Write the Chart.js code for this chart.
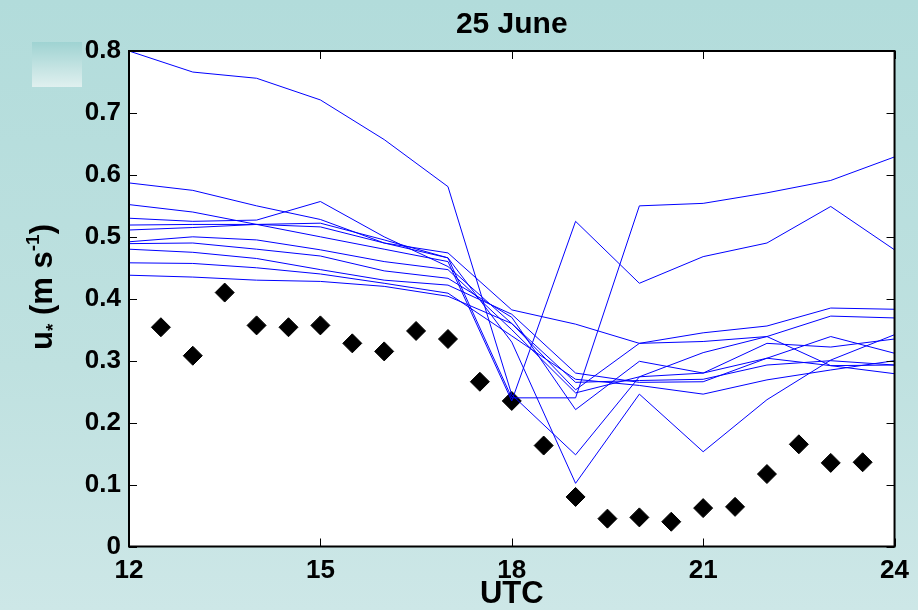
<!DOCTYPE html>
<html>
<head>
<meta charset="utf-8">
<title>25 June</title>
<script src="https://cdn.jsdelivr.net/npm/chart.js@4.4.1/dist/chart.umd.min.js"></script>
<style>
  html, body { margin: 0; padding: 0; }
  body {
    width: 918px; height: 610px; overflow: hidden; position: relative;
    background: linear-gradient(to bottom, #b2dcdb 0%, #bfe1e0 60%, #cde7e7 100%);
  }
  #swatch {
    position: absolute; left: 32px; top: 42px; width: 50px; height: 45px;
    background: linear-gradient(to bottom, #9fd3d2, #e0f0ef);
  }
  canvas { position: absolute; left: 0; top: 0; }
</style>
</head>
<body>
<div id="swatch"></div>
<canvas id="chart" width="918" height="610"></canvas>
<script>
// hourly model output, 12 to 24 UTC
const hours = [12, 13, 14, 15, 16, 17, 18, 19, 20, 21, 22, 23, 24];

const run1  = [0.800, 0.766, 0.756, 0.721, 0.657, 0.581, 0.245, 0.148, 0.274, 0.280, 0.304, 0.292, 0.293];
const run2  = [0.552, 0.540, 0.520, 0.500, 0.480, 0.460, 0.235, 0.525, 0.425, 0.468, 0.490, 0.549, 0.479];
const run3  = [0.587, 0.575, 0.550, 0.528, 0.490, 0.466, 0.240, 0.240, 0.550, 0.554, 0.571, 0.591, 0.629];
const run4  = [0.530, 0.525, 0.527, 0.557, 0.500, 0.452, 0.360, 0.253, 0.328, 0.345, 0.356, 0.385, 0.383];
const run5  = [0.519, 0.520, 0.520, 0.516, 0.490, 0.474, 0.382, 0.359, 0.328, 0.331, 0.339, 0.372, 0.369];
const run6  = [0.511, 0.515, 0.520, 0.522, 0.495, 0.466, 0.330, 0.102, 0.246, 0.153, 0.237, 0.301, 0.342];
const run7  = [0.492, 0.500, 0.495, 0.479, 0.460, 0.447, 0.350, 0.248, 0.274, 0.313, 0.339, 0.292, 0.279];
const run8  = [0.489, 0.490, 0.480, 0.469, 0.445, 0.433, 0.370, 0.221, 0.299, 0.280, 0.328, 0.322, 0.335];
const run9  = [0.480, 0.475, 0.465, 0.447, 0.430, 0.422, 0.375, 0.280, 0.265, 0.266, 0.304, 0.339, 0.312];
const run10 = [0.458, 0.457, 0.450, 0.440, 0.425, 0.409, 0.340, 0.270, 0.260, 0.246, 0.269, 0.285, 0.300];
const run11 = [0.438, 0.435, 0.430, 0.428, 0.420, 0.404, 0.360, 0.265, 0.268, 0.270, 0.293, 0.300, 0.293];
const modelRuns = [run1, run2, run3, run4, run5, run6, run7, run8, run9, run10, run11];

// half-hourly observations
const obsHours = [12.5, 13, 13.5, 14, 14.5, 15, 15.5, 16, 16.5, 17, 17.5, 18,
                  18.5, 19, 19.5, 20, 20.5, 21, 21.5, 22, 22.5, 23, 23.5];
const obsUstar = [0.354, 0.308, 0.410, 0.357, 0.354, 0.357, 0.328, 0.315, 0.348, 0.335, 0.266, 0.235,
                  0.163, 0.080, 0.045, 0.047, 0.040, 0.062, 0.064, 0.117, 0.165, 0.135, 0.136];

const xTicks = [12, 15, 18, 21, 24];
const yTicks = [0, 0.1, 0.2, 0.3, 0.4, 0.5, 0.6, 0.7, 0.8];

const FONT = '"Liberation Sans", Arial, sans-serif';

// box round the plot, inward tick marks on all four sides, and the y label
const matlabFrame = {
    id: 'matlabFrame',
    afterDraw(chart) {
        const {ctx, chartArea: a, scales: {x, y}} = chart;
        ctx.save();
        ctx.strokeStyle = '#000';
        ctx.lineWidth = 1;
        ctx.beginPath();
        xTicks.forEach(v => {
            const px = Math.round(x.getPixelForValue(v)) + 0.5;
            ctx.moveTo(px, a.bottom); ctx.lineTo(px, a.bottom - 8);
            ctx.moveTo(px, a.top); ctx.lineTo(px, a.top + 8);
        });
        yTicks.forEach(v => {
            const py = Math.round(y.getPixelForValue(v)) + 0.5;
            ctx.moveTo(a.left, py); ctx.lineTo(a.left + 8, py);
            ctx.moveTo(a.right, py); ctx.lineTo(a.right - 8, py);
        });
        ctx.stroke();
        ctx.lineWidth = 2;
        ctx.strokeRect(a.left, a.top, a.right - a.left, a.bottom - a.top);

        // u* (m s^-1), rotated, with sub- and superscript
        const parts = [
            {t: 'u', size: 31, dy: 0},
            {t: '*', size: 19, dy: 7},
            {t: ' (m s', size: 31, dy: 0},
            {t: '-1', size: 19, dy: -13},
            {t: ')', size: 31, dy: 0}
        ];
        ctx.fillStyle = '#000';
        ctx.textBaseline = 'alphabetic';
        ctx.textAlign = 'left';
        let total = 0;
        parts.forEach(p => {
            ctx.font = `bold ${p.size}px ${FONT}`;
            p.w = ctx.measureText(p.t).width;
            total += p.w;
        });
        ctx.translate(41, 287);
        ctx.rotate(-Math.PI / 2);
        let cx = -total / 2;
        parts.forEach(p => {
            ctx.font = `bold ${p.size}px ${FONT}`;
            ctx.fillText(p.t, cx, 11 + p.dy);
            cx += p.w;
        });
        ctx.restore();
    }
};

const plotBackground = {
    id: 'plotBackground',
    beforeDraw(chart) {
        const {ctx, chartArea: a} = chart;
        ctx.save();
        ctx.fillStyle = '#fff';
        ctx.fillRect(a.left, a.top, a.right - a.left, a.bottom - a.top);
        ctx.restore();
    }
};

const datasets = modelRuns.map((run, i) => ({
    label: 'run ' + (i + 1),
    data: hours.map((h, j) => ({x: h, y: run[j]})),
    borderColor: '#0000ff',
    borderWidth: 1,
    pointRadius: 0,
    tension: 0,
    fill: false,
    order: 0
}));
datasets.push({
    label: 'observed',
    data: obsHours.map((h, j) => ({x: h, y: obsUstar[j]})),
    showLine: false,
    pointStyle: 'rectRot',
    pointRadius: 9.5,
    pointBackgroundColor: '#000',
    pointBorderColor: '#000',
    pointBorderWidth: 1,
    order: 1
});

new Chart(document.getElementById('chart'), {
    type: 'line',
    data: {datasets},
    plugins: [plotBackground, matlabFrame],
    options: {
        responsive: false,
        animation: false,
        layout: {padding: {top: 0, left: 0, right: 22, bottom: 0}},
        plugins: {
            legend: {display: false},
            tooltip: {enabled: false},
            title: {
                display: true,
                text: '25 June',
                fullSize: false,
                color: '#000',
                font: {family: FONT, size: 30, weight: 'bold', lineHeight: 1.2},
                padding: {top: 7, bottom: 8}
            }
        },
        scales: {
            x: {
                type: 'linear',
                min: 12, max: 24,
                afterFit(s) { s.height = 63.5; },
                afterBuildTicks(s) { s.ticks = xTicks.map(v => ({value: v})); },
                grid: {display: false, drawTicks: false},
                border: {display: false},
                ticks: {
                    color: '#000', padding: 9, maxRotation: 0,
                    font: {family: FONT, size: 26, weight: 'bold'}
                },
                title: {
                    display: true, text: 'UTC', color: '#000',
                    font: {family: FONT, size: 31, weight: 'bold', lineHeight: 1.0},
                    padding: {top: 0, bottom: 0}
                }
            },
            y: {
                type: 'linear',
                min: 0, max: 0.8,
                afterFit(s) { s.width = 129; },
                afterBuildTicks(s) { s.ticks = yTicks.map(v => ({value: v})); },
                grid: {display: false, drawTicks: false},
                border: {display: false},
                ticks: {
                    color: '#000', padding: 8,
                    font: {family: FONT, size: 26, weight: 'bold'},
                    callback: v => String(v)
                }
            }
        }
    }
});
</script>
</body>
</html>
